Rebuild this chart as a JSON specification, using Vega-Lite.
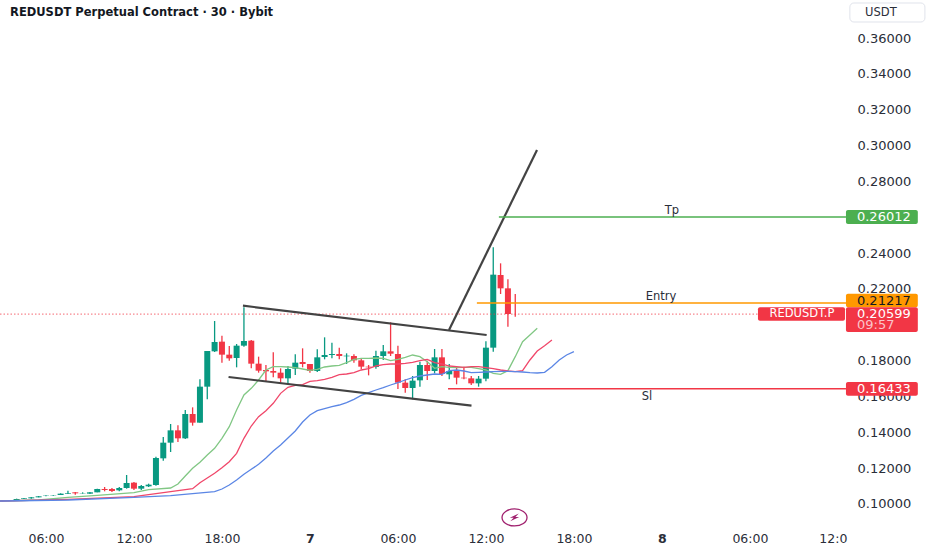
{
"$schema":"https://vega.github.io/schema/vega-lite/v6.json",
"width":932,"height":550,"padding":0,"autosize":"none","background":"#ffffff",
"config":{"view":{"stroke":null},"font":"DejaVu Sans"},
"datasets":{
"candles":[
{"t":"2025-03-06T02:30Z","o":0.10167,"h":0.10204,"l":0.10148,"c":0.10186},
{"t":"2025-03-06T03:00Z","o":0.10186,"h":0.10223,"l":0.10167,"c":0.10204},
{"t":"2025-03-06T03:30Z","o":0.10186,"h":0.10223,"l":0.10167,"c":0.10204},
{"t":"2025-03-06T04:00Z","o":0.10204,"h":0.10298,"l":0.10186,"c":0.10279},
{"t":"2025-03-06T04:30Z","o":0.10279,"h":0.10335,"l":0.10279,"c":0.10316},
{"t":"2025-03-06T05:00Z","o":0.10316,"h":0.10391,"l":0.10298,"c":0.10372},
{"t":"2025-03-06T05:30Z","o":0.10372,"h":0.10446,"l":0.10372,"c":0.10428},
{"t":"2025-03-06T06:00Z","o":0.10446,"h":0.10483,"l":0.10428,"c":0.10465},
{"t":"2025-03-06T06:30Z","o":0.10446,"h":0.10483,"l":0.10446,"c":0.10465},
{"t":"2025-03-06T07:00Z","o":0.10502,"h":0.10595,"l":0.10502,"c":0.10577},
{"t":"2025-03-06T07:30Z","o":0.10558,"h":0.10744,"l":0.10558,"c":0.10595},
{"t":"2025-03-06T08:00Z","o":0.10651,"h":0.10669,"l":0.10521,"c":0.10595},
{"t":"2025-03-06T08:30Z","o":0.10595,"h":0.10651,"l":0.10577,"c":0.10614},
{"t":"2025-03-06T09:00Z","o":0.10577,"h":0.10669,"l":0.10558,"c":0.10651},
{"t":"2025-03-06T09:30Z","o":0.10651,"h":0.10855,"l":0.10651,"c":0.10837},
{"t":"2025-03-06T10:00Z","o":0.10837,"h":0.10949,"l":0.10707,"c":0.10781},
{"t":"2025-03-06T10:30Z","o":0.10837,"h":0.10893,"l":0.10669,"c":0.10725},
{"t":"2025-03-06T11:00Z","o":0.10763,"h":0.10949,"l":0.10707,"c":0.10893},
{"t":"2025-03-06T11:30Z","o":0.10893,"h":0.11618,"l":0.10855,"c":0.11172},
{"t":"2025-03-06T12:00Z","o":0.1119,"h":0.11227,"l":0.10781,"c":0.10855},
{"t":"2025-03-06T12:30Z","o":0.10855,"h":0.1106,"l":0.10781,"c":0.11004},
{"t":"2025-03-06T13:00Z","o":0.10986,"h":0.11134,"l":0.10949,"c":0.11079},
{"t":"2025-03-06T13:30Z","o":0.1106,"h":0.12641,"l":0.11023,"c":0.12567},
{"t":"2025-03-06T14:00Z","o":0.12548,"h":0.13738,"l":0.12418,"c":0.13422},
{"t":"2025-03-06T14:30Z","o":0.13422,"h":0.14464,"l":0.12901,"c":0.1411},
{"t":"2025-03-06T15:00Z","o":0.1411,"h":0.14389,"l":0.13459,"c":0.13664},
{"t":"2025-03-06T15:30Z","o":0.13664,"h":0.15245,"l":0.13627,"c":0.15022},
{"t":"2025-03-06T16:00Z","o":0.15022,"h":0.15394,"l":0.14371,"c":0.14538},
{"t":"2025-03-06T16:30Z","o":0.14538,"h":0.16956,"l":0.14538,"c":0.16547},
{"t":"2025-03-06T17:00Z","o":0.16547,"h":0.18537,"l":0.1584,"c":0.18537},
{"t":"2025-03-06T17:30Z","o":0.18519,"h":0.20211,"l":0.18481,"c":0.19039},
{"t":"2025-03-06T18:00Z","o":0.19058,"h":0.19393,"l":0.17886,"c":0.18333},
{"t":"2025-03-06T18:30Z","o":0.18333,"h":0.18816,"l":0.17998,"c":0.18128},
{"t":"2025-03-06T19:00Z","o":0.18147,"h":0.18928,"l":0.17626,"c":0.18835},
{"t":"2025-03-06T19:30Z","o":0.18835,"h":0.20974,"l":0.18779,"c":0.19095},
{"t":"2025-03-06T20:00Z","o":0.19114,"h":0.19151,"l":0.1757,"c":0.1783},
{"t":"2025-03-06T20:30Z","o":0.1783,"h":0.18221,"l":0.17328,"c":0.1744},
{"t":"2025-03-06T21:00Z","o":0.17477,"h":0.17756,"l":0.16826,"c":0.17403},
{"t":"2025-03-06T21:30Z","o":0.17421,"h":0.18463,"l":0.17068,"c":0.17328},
{"t":"2025-03-06T22:00Z","o":0.17328,"h":0.1757,"l":0.1677,"c":0.17012},
{"t":"2025-03-06T22:30Z","o":0.17012,"h":0.177,"l":0.16696,"c":0.17533},
{"t":"2025-03-06T23:00Z","o":0.17551,"h":0.18351,"l":0.17198,"c":0.17886},
{"t":"2025-03-06T23:30Z","o":0.17923,"h":0.18686,"l":0.17626,"c":0.17812},
{"t":"2025-03-07T00:00Z","o":0.17812,"h":0.17812,"l":0.17328,"c":0.17421},
{"t":"2025-03-07T00:30Z","o":0.17421,"h":0.1863,"l":0.17365,"c":0.18184},
{"t":"2025-03-07T01:00Z","o":0.18202,"h":0.193,"l":0.18072,"c":0.18314},
{"t":"2025-03-07T01:30Z","o":0.18314,"h":0.19002,"l":0.18128,"c":0.1837},
{"t":"2025-03-07T02:00Z","o":0.1837,"h":0.18723,"l":0.18072,"c":0.18258},
{"t":"2025-03-07T02:30Z","o":0.1824,"h":0.18407,"l":0.17812,"c":0.18277},
{"t":"2025-03-07T03:00Z","o":0.18258,"h":0.18351,"l":0.17886,"c":0.18016},
{"t":"2025-03-07T03:30Z","o":0.18016,"h":0.18128,"l":0.17514,"c":0.17663},
{"t":"2025-03-07T04:00Z","o":0.17663,"h":0.17756,"l":0.17179,"c":0.17626},
{"t":"2025-03-07T04:30Z","o":0.17645,"h":0.18556,"l":0.17551,"c":0.18258},
{"t":"2025-03-07T05:00Z","o":0.18258,"h":0.18872,"l":0.18035,"c":0.18519},
{"t":"2025-03-07T05:30Z","o":0.18519,"h":0.20137,"l":0.18258,"c":0.18388},
{"t":"2025-03-07T06:00Z","o":0.1837,"h":0.18835,"l":0.16417,"c":0.1677},
{"t":"2025-03-07T06:30Z","o":0.1677,"h":0.16956,"l":0.16212,"c":0.16473},
{"t":"2025-03-07T07:00Z","o":0.16473,"h":0.17142,"l":0.1584,"c":0.16882},
{"t":"2025-03-07T07:30Z","o":0.169,"h":0.17942,"l":0.16547,"c":0.17756},
{"t":"2025-03-07T08:00Z","o":0.17756,"h":0.18,"l":0.16919,"c":0.17421},
{"t":"2025-03-07T08:30Z","o":0.17421,"h":0.18649,"l":0.17291,"c":0.18184},
{"t":"2025-03-07T09:00Z","o":0.18184,"h":0.18649,"l":0.17142,"c":0.17254},
{"t":"2025-03-07T09:30Z","o":0.17235,"h":0.17812,"l":0.16956,"c":0.17421},
{"t":"2025-03-07T10:00Z","o":0.17421,"h":0.17663,"l":0.16677,"c":0.17049},
{"t":"2025-03-07T10:30Z","o":0.17049,"h":0.17663,"l":0.16956,"c":0.17012},
{"t":"2025-03-07T11:00Z","o":0.17012,"h":0.17142,"l":0.1664,"c":0.16733},
{"t":"2025-03-07T11:30Z","o":0.16733,"h":0.17142,"l":0.16547,"c":0.16993},
{"t":"2025-03-07T12:00Z","o":0.16993,"h":0.19077,"l":0.16845,"c":0.18723},
{"t":"2025-03-07T12:30Z","o":0.18723,"h":0.24322,"l":0.185,"c":0.22797},
{"t":"2025-03-07T13:00Z","o":0.22778,"h":0.23429,"l":0.21718,"c":0.22034},
{"t":"2025-03-07T13:30Z","o":0.22034,"h":0.22536,"l":0.19895,"c":0.20602},
{"t":"2025-03-07T14:00Z","o":0.20602,"h":0.21718,"l":0.20453,"c":0.20599}
],
"ma":[
{"s":"g","t":"2025-03-06T02:30Z","v":0.10167},{"s":"g","t":"2025-03-06T03:00Z","v":0.10167},{"s":"g","t":"2025-03-06T05:30Z","v":0.10223},{"s":"g","t":"2025-03-06T07:30Z","v":0.10372},{"s":"g","t":"2025-03-06T09:30Z","v":0.10483},{"s":"g","t":"2025-03-06T12:00Z","v":0.10632},{"s":"g","t":"2025-03-06T13:00Z","v":0.108},{"s":"g","t":"2025-03-06T14:30Z","v":0.10893},{"s":"g","t":"2025-03-06T15:00Z","v":0.11116},{"s":"g","t":"2025-03-06T15:30Z","v":0.11562},{"s":"g","t":"2025-03-06T16:00Z","v":0.1199},{"s":"g","t":"2025-03-06T16:30Z","v":0.12325},{"s":"g","t":"2025-03-06T17:00Z","v":0.12734},{"s":"g","t":"2025-03-06T17:30Z","v":0.13106},{"s":"g","t":"2025-03-06T18:00Z","v":0.13664},{"s":"g","t":"2025-03-06T18:30Z","v":0.14315},{"s":"g","t":"2025-03-06T19:00Z","v":0.15245},{"s":"g","t":"2025-03-06T19:30Z","v":0.16082},{"s":"g","t":"2025-03-06T20:00Z","v":0.16454},{"s":"g","t":"2025-03-06T20:30Z","v":0.16919},{"s":"g","t":"2025-03-06T21:00Z","v":0.17477},{"s":"g","t":"2025-03-06T21:30Z","v":0.17663},{"s":"g","t":"2025-03-06T22:00Z","v":0.17663},{"s":"g","t":"2025-03-06T22:30Z","v":0.17645},{"s":"g","t":"2025-03-06T23:00Z","v":0.17607},{"s":"g","t":"2025-03-06T23:30Z","v":0.17533},{"s":"g","t":"2025-03-07T00:00Z","v":0.17458},{"s":"g","t":"2025-03-07T00:30Z","v":0.17514},{"s":"g","t":"2025-03-07T01:00Z","v":0.17645},{"s":"g","t":"2025-03-07T01:30Z","v":0.177},{"s":"g","t":"2025-03-07T02:00Z","v":0.17737},{"s":"g","t":"2025-03-07T02:30Z","v":0.17886},{"s":"g","t":"2025-03-07T03:00Z","v":0.18072},{"s":"g","t":"2025-03-07T03:30Z","v":0.18128},{"s":"g","t":"2025-03-07T04:00Z","v":0.18128},{"s":"g","t":"2025-03-07T04:30Z","v":0.18147},{"s":"g","t":"2025-03-07T05:00Z","v":0.18128},{"s":"g","t":"2025-03-07T05:30Z","v":0.17998},{"s":"g","t":"2025-03-07T06:00Z","v":0.18072},{"s":"g","t":"2025-03-07T06:30Z","v":0.18184},{"s":"g","t":"2025-03-07T07:00Z","v":0.18314},{"s":"g","t":"2025-03-07T07:30Z","v":0.18221},{"s":"g","t":"2025-03-07T08:00Z","v":0.17942},{"s":"g","t":"2025-03-07T08:30Z","v":0.1757},{"s":"g","t":"2025-03-07T09:00Z","v":0.17663},{"s":"g","t":"2025-03-07T09:30Z","v":0.17626},{"s":"g","t":"2025-03-07T10:00Z","v":0.17607},{"s":"g","t":"2025-03-07T10:30Z","v":0.17626},{"s":"g","t":"2025-03-07T11:00Z","v":0.17626},{"s":"g","t":"2025-03-07T11:30Z","v":0.17551},{"s":"g","t":"2025-03-07T12:00Z","v":0.17477},{"s":"g","t":"2025-03-07T12:30Z","v":0.17291},{"s":"g","t":"2025-03-07T13:00Z","v":0.17235},{"s":"g","t":"2025-03-07T13:30Z","v":0.1744},{"s":"g","t":"2025-03-07T14:00Z","v":0.18221},{"s":"g","t":"2025-03-07T14:30Z","v":0.19058},{"s":"g","t":"2025-03-07T15:00Z","v":0.1943},{"s":"g","t":"2025-03-07T15:30Z","v":0.19802},
{"s":"r","t":"2025-03-06T02:30Z","v":0.10167},{"s":"r","t":"2025-03-06T03:00Z","v":0.10167},{"s":"r","t":"2025-03-06T07:30Z","v":0.1026},{"s":"r","t":"2025-03-06T12:00Z","v":0.10409},{"s":"r","t":"2025-03-06T14:30Z","v":0.10688},{"s":"r","t":"2025-03-06T16:00Z","v":0.10855},{"s":"r","t":"2025-03-06T16:30Z","v":0.1119},{"s":"r","t":"2025-03-06T17:00Z","v":0.11451},{"s":"r","t":"2025-03-06T17:30Z","v":0.11711},{"s":"r","t":"2025-03-06T18:00Z","v":0.12027},{"s":"r","t":"2025-03-06T18:30Z","v":0.12362},{"s":"r","t":"2025-03-06T19:00Z","v":0.12827},{"s":"r","t":"2025-03-06T19:30Z","v":0.13664},{"s":"r","t":"2025-03-06T20:00Z","v":0.14352},{"s":"r","t":"2025-03-06T20:30Z","v":0.14873},{"s":"r","t":"2025-03-06T21:00Z","v":0.15208},{"s":"r","t":"2025-03-06T21:30Z","v":0.15617},{"s":"r","t":"2025-03-06T22:00Z","v":0.16175},{"s":"r","t":"2025-03-06T22:30Z","v":0.1651},{"s":"r","t":"2025-03-06T23:00Z","v":0.16621},{"s":"r","t":"2025-03-06T23:30Z","v":0.16659},{"s":"r","t":"2025-03-07T00:00Z","v":0.16845},{"s":"r","t":"2025-03-07T00:30Z","v":0.16882},{"s":"r","t":"2025-03-07T01:00Z","v":0.16956},{"s":"r","t":"2025-03-07T01:30Z","v":0.17068},{"s":"r","t":"2025-03-07T02:00Z","v":0.17217},{"s":"r","t":"2025-03-07T02:30Z","v":0.17254},{"s":"r","t":"2025-03-07T03:00Z","v":0.17328},{"s":"r","t":"2025-03-07T03:30Z","v":0.17477},{"s":"r","t":"2025-03-07T04:00Z","v":0.17551},{"s":"r","t":"2025-03-07T04:30Z","v":0.177},{"s":"r","t":"2025-03-07T05:00Z","v":0.17775},{"s":"r","t":"2025-03-07T05:30Z","v":0.17812},{"s":"r","t":"2025-03-07T06:00Z","v":0.17812},{"s":"r","t":"2025-03-07T06:30Z","v":0.17849},{"s":"r","t":"2025-03-07T07:00Z","v":0.17905},{"s":"r","t":"2025-03-07T07:30Z","v":0.18},{"s":"r","t":"2025-03-07T08:00Z","v":0.18072},{"s":"r","t":"2025-03-07T08:30Z","v":0.17886},{"s":"r","t":"2025-03-07T09:00Z","v":0.17812},{"s":"r","t":"2025-03-07T09:30Z","v":0.177},{"s":"r","t":"2025-03-07T10:00Z","v":0.17663},{"s":"r","t":"2025-03-07T10:30Z","v":0.17626},{"s":"r","t":"2025-03-07T11:00Z","v":0.17663},{"s":"r","t":"2025-03-07T11:30Z","v":0.17663},{"s":"r","t":"2025-03-07T12:00Z","v":0.17607},{"s":"r","t":"2025-03-07T12:30Z","v":0.17551},{"s":"r","t":"2025-03-07T13:00Z","v":0.17477},{"s":"r","t":"2025-03-07T13:30Z","v":0.17421},{"s":"r","t":"2025-03-07T14:00Z","v":0.17384},{"s":"r","t":"2025-03-07T14:30Z","v":0.1744},{"s":"r","t":"2025-03-07T15:00Z","v":0.18035},{"s":"r","t":"2025-03-07T15:30Z","v":0.18537},{"s":"r","t":"2025-03-07T16:00Z","v":0.18835},{"s":"r","t":"2025-03-07T16:30Z","v":0.19151},
{"s":"b","t":"2025-03-06T02:30Z","v":0.10167},{"s":"b","t":"2025-03-06T03:00Z","v":0.10167},{"s":"b","t":"2025-03-06T07:30Z","v":0.10223},{"s":"b","t":"2025-03-06T12:00Z","v":0.10372},{"s":"b","t":"2025-03-06T14:30Z","v":0.10465},{"s":"b","t":"2025-03-06T17:30Z","v":0.10688},{"s":"b","t":"2025-03-06T18:00Z","v":0.10837},{"s":"b","t":"2025-03-06T18:30Z","v":0.1106},{"s":"b","t":"2025-03-06T19:00Z","v":0.11339},{"s":"b","t":"2025-03-06T19:30Z","v":0.11655},{"s":"b","t":"2025-03-06T20:00Z","v":0.11934},{"s":"b","t":"2025-03-06T20:30Z","v":0.12213},{"s":"b","t":"2025-03-06T21:00Z","v":0.12567},{"s":"b","t":"2025-03-06T21:30Z","v":0.12957},{"s":"b","t":"2025-03-06T22:00Z","v":0.13292},{"s":"b","t":"2025-03-06T22:30Z","v":0.13683},{"s":"b","t":"2025-03-06T23:00Z","v":0.14073},{"s":"b","t":"2025-03-06T23:30Z","v":0.14576},{"s":"b","t":"2025-03-07T00:00Z","v":0.14966},{"s":"b","t":"2025-03-07T00:30Z","v":0.15208},{"s":"b","t":"2025-03-07T01:00Z","v":0.15319},{"s":"b","t":"2025-03-07T01:30Z","v":0.15431},{"s":"b","t":"2025-03-07T02:00Z","v":0.15524},{"s":"b","t":"2025-03-07T02:30Z","v":0.15654},{"s":"b","t":"2025-03-07T03:00Z","v":0.1584},{"s":"b","t":"2025-03-07T03:30Z","v":0.16063},{"s":"b","t":"2025-03-07T04:00Z","v":0.16212},{"s":"b","t":"2025-03-07T04:30Z","v":0.16361},{"s":"b","t":"2025-03-07T05:00Z","v":0.16491},{"s":"b","t":"2025-03-07T05:30Z","v":0.1664},{"s":"b","t":"2025-03-07T06:00Z","v":0.1677},{"s":"b","t":"2025-03-07T06:30Z","v":0.16919},{"s":"b","t":"2025-03-07T07:00Z","v":0.17049},{"s":"b","t":"2025-03-07T07:30Z","v":0.17142},{"s":"b","t":"2025-03-07T08:00Z","v":0.17198},{"s":"b","t":"2025-03-07T08:30Z","v":0.17254},{"s":"b","t":"2025-03-07T09:00Z","v":0.17235},{"s":"b","t":"2025-03-07T09:30Z","v":0.1744},{"s":"b","t":"2025-03-07T10:00Z","v":0.17477},{"s":"b","t":"2025-03-07T10:30Z","v":0.17421},{"s":"b","t":"2025-03-07T11:00Z","v":0.17328},{"s":"b","t":"2025-03-07T11:30Z","v":0.17347},{"s":"b","t":"2025-03-07T12:00Z","v":0.17365},{"s":"b","t":"2025-03-07T12:30Z","v":0.17384},{"s":"b","t":"2025-03-07T13:00Z","v":0.17403},{"s":"b","t":"2025-03-07T13:30Z","v":0.17403},{"s":"b","t":"2025-03-07T14:00Z","v":0.17384},{"s":"b","t":"2025-03-07T14:30Z","v":0.17365},{"s":"b","t":"2025-03-07T15:00Z","v":0.17328},{"s":"b","t":"2025-03-07T15:30Z","v":0.1731},{"s":"b","t":"2025-03-07T16:00Z","v":0.17347},{"s":"b","t":"2025-03-07T16:30Z","v":0.17663},{"s":"b","t":"2025-03-07T17:00Z","v":0.18035},{"s":"b","t":"2025-03-07T17:30Z","v":0.18314},{"s":"b","t":"2025-03-07T18:00Z","v":0.185}
],
"trend":[
{"s":"upper","t":"2025-03-06T19:26Z","v":0.21065},{"s":"upper","t":"2025-03-07T12:03Z","v":0.1943},
{"s":"lower","t":"2025-03-06T18:27Z","v":0.17087},{"s":"lower","t":"2025-03-07T11:01Z","v":0.15485},
{"s":"break","t":"2025-03-07T09:29Z","v":0.19709},{"s":"break","t":"2025-03-07T15:29Z","v":0.29753}
],
"levels":[
{"s":"tp","t":"2025-03-07T12:53Z","v":0.26012},{"s":"tp","t":"2025-03-08T12:33Z","v":0.26012},
{"s":"entry","t":"2025-03-07T11:23Z","v":0.21217},{"s":"entry","t":"2025-03-08T12:33Z","v":0.21217},
{"s":"sl","t":"2025-03-07T09:25Z","v":0.16433},{"s":"sl","t":"2025-03-08T12:33Z","v":0.16433}
],
"last":[{"t":"2025-03-06T02:52Z","v":0.20599},{"t":"2025-03-08T06:33Z","v":0.20599}],
"tags":[
{"s":"tp","t":"2025-03-08T12:33Z","t2":"2025-03-08T17:27Z","v":0.26405,"v2":0.25624},
{"s":"entry","t":"2025-03-08T12:33Z","t2":"2025-03-08T17:27Z","v":0.21735,"v2":0.20976},
{"s":"sl","t":"2025-03-08T12:33Z","t2":"2025-03-08T17:27Z","v":0.16808,"v2":0.16043},
{"s":"last","t":"2025-03-08T12:33Z","t2":"2025-03-08T17:27Z","v":0.20976,"v2":0.19598},
{"s":"last","t":"2025-03-08T06:33Z","t2":"2025-03-08T12:29Z","v":0.20976,"v2":0.20228}
],
"tagtext":[
{"t":"2025-03-08T13:18Z","v":0.26012,"text":"0.26012","k":"w"},
{"t":"2025-03-08T13:18Z","v":0.2133,"text":"0.21217","k":"d"},
{"t":"2025-03-08T13:18Z","v":0.20585,"text":"0.20599","k":"w"},
{"t":"2025-03-08T13:18Z","v":0.19972,"text":"09:57","k":"p"},
{"t":"2025-03-08T13:18Z","v":0.16434,"text":"0.16433","k":"w"}
],
"notes":[
{"t":"2025-03-08T00:41Z","v":0.2635,"text":"Tp"},
{"t":"2025-03-07T23:56Z","v":0.2155,"text":"Entry"},
{"t":"2025-03-07T22:59Z","v":0.1597,"text":"Sl"}
]
},
"encoding":{
"x":{"field":"t","type":"temporal","scale":{"type":"utc","domain":["2025-03-06T02:52:00Z","2025-03-08T18:25:00Z"],"nice":false,"padding":0},"title":null,
"axis":{"orient":"bottom","offset":-24,"domain":false,"ticks":false,"grid":false,"title":null,
"values":["2025-03-06T06:00:00Z","2025-03-06T12:00:00Z","2025-03-06T18:00:00Z","2025-03-07T00:00:00Z","2025-03-07T06:00:00Z","2025-03-07T12:00:00Z","2025-03-07T18:00:00Z","2025-03-08T00:00:00Z","2025-03-08T06:00:00Z","2025-03-08T12:00:00Z"],
"labelExpr":"utchours(datum.value)==0 ? ''+utcdate(datum.value) : (utchours(datum.value)==12 && utcdate(datum.value)==8 ? '12:0' : utcFormat(datum.value,'%H:%M'))",
"labelFontWeight":{"condition":{"test":"utchours(datum.value)==0","value":"bold"},"value":"normal"},
"labelOffset":{"condition":{"test":"utchours(datum.value)==12 && utcdate(datum.value)==8","value":-5},"value":0},
"labelFont":"DejaVu Sans","labelFontSize":12.5,"labelColor":"#2a2e39","labelPadding":6,"labelOverlap":false,"labelBound":false,"labelFlush":false,"labelAngle":0}},
"y":{"field":"v","type":"quantitative","scale":{"domain":[0.07433,0.38123],"nice":false,"zero":false},"title":null,
"axis":{"orient":"right","offset":-86,"domain":false,"ticks":false,"grid":false,"title":null,
"values":[0.1,0.12,0.14,0.16,0.18,0.22,0.24,0.28,0.3,0.32,0.34,0.36],"format":".5f",
"labelFont":"DejaVu Sans","labelFontSize":13,"labelColor":"#2a2e39","labelPadding":11,"labelOverlap":false,"labelBound":false,"labelFlush":false,"labelAlign":"left"}}
},
"layer":[
{"data":{"name":"candles"},"mark":{"type":"rule","strokeWidth":1.3,"clip":true},
"encoding":{"y":{"field":"l","type":"quantitative","scale":{"domain":[0.07433,0.38123],"nice":false,"zero":false}},"y2":{"field":"h"},
"color":{"condition":{"test":"datum.c>=datum.o","value":"#089981"},"value":"#f23645"}}},
{"data":{"name":"candles"},"mark":{"type":"bar","size":6,"clip":true},
"encoding":{"y":{"field":"o","type":"quantitative","scale":{"domain":[0.07433,0.38123],"nice":false,"zero":false}},"y2":{"field":"c"},
"color":{"condition":{"test":"datum.c>=datum.o","value":"#089981"},"value":"#f23645"}}},
{"data":{"name":"last"},"mark":{"type":"line","stroke":"#f23645","strokeWidth":1.2,"strokeDash":[1.5,2],"opacity":0.6}},
{"data":{"name":"ma"},"mark":{"type":"line","strokeWidth":1.3,"clip":true},
"encoding":{"color":{"field":"s","type":"nominal","legend":null,"scale":{"domain":["g","r","b","tp","entry","sl","last"],"range":["#81c784","#f0476a","#5b86e5","#4caf50","#ff9800","#f23645","#f23645"]}}}},
{"data":{"name":"trend"},"mark":{"type":"line","stroke":"#434343","strokeWidth":2.2},"encoding":{"detail":{"field":"s"}}},
{"data":{"name":"levels"},"mark":{"type":"line","strokeWidth":1.5},
"encoding":{"color":{"field":"s","type":"nominal","legend":null,"scale":{"domain":["g","r","b","tp","entry","sl","last"],"range":["#81c784","#f0476a","#5b86e5","#4caf50","#ff9800","#f23645","#f23645"]}}}},
{"data":{"name":"notes"},"mark":{"type":"text","font":"DejaVu Sans","fontSize":11.5,"color":"#2a2e39"},"encoding":{"text":{"field":"text"}}},
{"data":{"name":"tags"},"mark":{"type":"rect","cornerRadius":2},
"encoding":{"x2":{"field":"t2"},"y2":{"field":"v2"},
"color":{"field":"s","type":"nominal","legend":null,"scale":{"domain":["g","r","b","tp","entry","sl","last"],"range":["#81c784","#f0476a","#5b86e5","#4caf50","#ff9800","#f23645","#f23645"]}}}},
{"data":{"name":"tagtext"},"mark":{"type":"text","font":"DejaVu Sans","fontSize":13,"align":"left"},
"encoding":{"text":{"field":"text"},"color":{"condition":[{"test":"datum.k=='d'","value":"#131722"},{"test":"datum.k=='p'","value":"#fbc4ca"}],"value":"#ffffff"}}},
{"data":{"values":[{"t":"2025-03-08T09:33Z","v":0.20585,"text":"REDUSDT.P"}]},"mark":{"type":"text","font":"DejaVu Sans","fontSize":11.5,"color":"#ffffff"},"encoding":{"text":{"field":"text"}}},
{"data":{"values":[{"t":"2025-03-08T12:49Z","t2":"2025-03-08T17:56Z","v":0.37956,"v2":0.36896}]},"mark":{"type":"rect","fill":"#ffffff","stroke":"#e0e3eb","strokeWidth":1,"cornerRadius":4},"encoding":{"x2":{"field":"t2"},"y2":{"field":"v2"}}},
{"data":{"values":[{"t":"2025-03-08T14:56Z","v":0.3737,"text":"USDT"}]},"mark":{"type":"text","font":"DejaVu Sans","fontSize":11.5,"color":"#2a2e39"},"encoding":{"text":{"field":"text"}}},
{"data":{"values":[{"t":"2025-03-06T03:33Z","v":0.37394,"text":"REDUSDT Perpetual Contract · 30 · Bybit"}]},"mark":{"type":"text","font":"DejaVu Sans","fontWeight":"bold","fontSize":11.5,"align":"left","color":"#131722"},"encoding":{"text":{"field":"text"}}},
{"data":{"values":[{"t":"2025-03-07T13:57Z","v":0.0925}]},"mark":{"type":"point","shape":"M-1.47,0 A1.47,1 0 1 1 1.47,0 A1.47,1 0 1 1 -1.47,0 Z","size":289,"filled":false,"stroke":"#a0206e","strokeWidth":1.3,"fill":"#ffffff","opacity":1}},
{"data":{"values":[{"t":"2025-03-07T13:57Z","v":0.0925}]},"mark":{"type":"point","shape":"M0.5,-0.45 L-0.55,0.05 L-0.1,0.05 L-0.5,0.45 L0.55,-0.05 L0.1,-0.05 Z","size":289,"filled":true,"color":"#a0206e","opacity":1}}
]
}
